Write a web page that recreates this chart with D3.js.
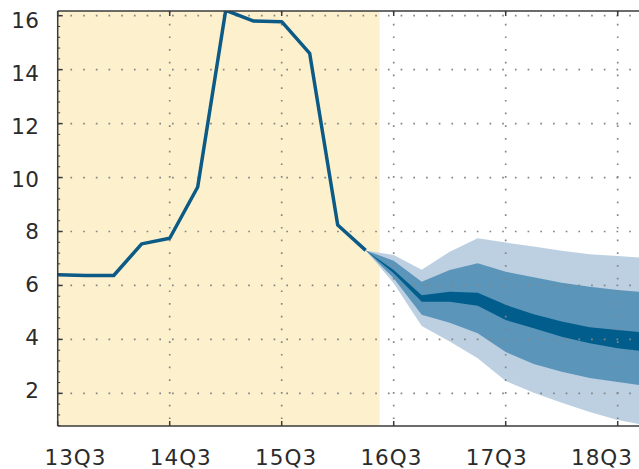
<!DOCTYPE html>
<html>
<head>
<meta charset="utf-8">
<script src="https://cdn.jsdelivr.net/npm/d3@7"></script>
<style>
  body { margin: 0; background: #fff; }
  text { font-family: "DejaVu Sans", sans-serif; fill: #2b2b2b; }
</style>
</head>
<body>
<div id="chart"></div>
<script>
// quarters on the x axis, 13Q3 .. 18Q4
var quarters = ["13Q3","13Q4","14Q1","14Q2","14Q3","14Q4","15Q1","15Q2","15Q3","15Q4",
                "16Q1","16Q2","16Q3","16Q4","17Q1","17Q2","17Q3","17Q4","18Q1","18Q2","18Q3","18Q4"];
var yearTicks = ["13Q3","14Q3","15Q3","16Q3","17Q3","18Q3"];
var yTicks = [2, 4, 6, 8, 10, 12, 14, 16];

// outturn
var histQuarters = ["13Q3","13Q4","14Q1","14Q2","14Q3","14Q4","15Q1","15Q2","15Q3","15Q4","16Q1","16Q2"];
var histValues = [6.4, 6.37, 6.37, 7.54, 7.75, 9.65, 16.2, 15.8, 15.78, 14.6, 8.24, 7.3];

// projection fan
var fanQuarters = ["16Q2","16Q3","16Q4","17Q1","17Q2","17Q3","17Q4","18Q1","18Q2","18Q3","18Q4"];
var outerHi = [7.3, 7.13, 6.58, 7.25, 7.75, 7.59, 7.44, 7.29, 7.16, 7.09, 7.02];
var midHi   = [7.3, 6.92, 6.14, 6.57, 6.82, 6.51, 6.30, 6.10, 5.95, 5.83, 5.75];
var coreHi  = [7.3, 6.57, 5.64, 5.77, 5.73, 5.28, 4.93, 4.66, 4.45, 4.35, 4.25];
var coreLo  = [7.3, 6.45, 5.40, 5.40, 5.25, 4.72, 4.41, 4.10, 3.86, 3.67, 3.55];
var midLo   = [7.3, 6.27, 4.91, 4.62, 4.23, 3.53, 3.09, 2.80, 2.57, 2.42, 2.28];
var outerLo = [7.3, 6.08, 4.50, 3.92, 3.30, 2.46, 2.02, 1.65, 1.31, 1.01, 0.82];

var W = 639, H = 469;
var mLeft = 57.7, mTop = 11, mBottom = 426, mRight = W;

var svg = d3.select("#chart").append("svg")
    .attr("width", W)
    .attr("height", H);

var x = d3.scalePoint()
    .domain(quarters)
    .range([mLeft, mLeft + 28 * (quarters.length - 1)]);

var y = d3.scaleLinear()
    .domain([0, 16])
    .range([447.3, 15.7]);

// label positions are spaced a little tighter than the ticks
var xLab = d3.scalePoint().domain(yearTicks).range([75.5, 602]);
var yLab = d3.scaleLinear().domain([6, 16]).range([284.5, 20.5]);

svg.append("clipPath").attr("id", "plot")
  .append("rect")
    .attr("x", mLeft).attr("y", mTop)
    .attr("width", mRight - mLeft).attr("height", mBottom - mTop);

var plot = svg.append("g").attr("clip-path", "url(#plot)");

// shaded outturn period
plot.append("rect")
    .attr("x", mLeft)
    .attr("y", mTop)
    .attr("width", x("16Q2") + x.step() / 2 - mLeft)
    .attr("height", mBottom - mTop)
    .attr("fill", "#fdf1cd");

// fan bands
var fan = fanQuarters.map(function (q, i) {
    return { q: q, oh: outerHi[i], mh: midHi[i], ch: coreHi[i], cl: coreLo[i], ml: midLo[i], ol: outerLo[i] };
});

function band(hi, lo) {
    return d3.area()
        .x(function (d) { return x(d.q); })
        .y0(function (d) { return y(d[lo]); })
        .y1(function (d) { return y(d[hi]); });
}

plot.append("path").datum(fan).attr("d", band("oh", "ol")).attr("fill", "#bdd0e2");
plot.append("path").datum(fan).attr("d", band("mh", "ml")).attr("fill", "#5b95ba");
plot.append("path").datum(fan).attr("d", band("ch", "cl")).attr("fill", "#005d8c");

// dotted grid
var grid = plot.append("g")
    .attr("fill", "none")
    .attr("stroke", "#858585")
    .attr("stroke-width", 1.7)
    .attr("stroke-dasharray", "1.7,11");

grid.selectAll(".hg")
    .data(yTicks)
    .enter().append("line")
    .attr("x1", mLeft).attr("x2", mRight)
    .attr("y1", function (d) { return y(d); })
    .attr("y2", function (d) { return y(d); });

grid.selectAll(".vg")
    .data(yearTicks.slice(1))
    .enter().append("line")
    .attr("x1", function (d) { return x(d); })
    .attr("x2", function (d) { return x(d); })
    .attr("y1", mTop).attr("y2", mBottom);

// outturn line
var line = d3.line()
    .x(function (d) { return x(d.q); })
    .y(function (d) { return y(d.v); });

plot.append("path")
    .datum(histQuarters.map(function (q, i) { return { q: q, v: histValues[i] }; }))
    .attr("d", line)
    .attr("fill", "none")
    .attr("stroke", "#0c5a86")
    .attr("stroke-width", 3.5)
    .attr("stroke-linejoin", "round");

// axes frame and ticks
var axis = svg.append("g").attr("stroke", "#3a3a3a").attr("stroke-width", 1.5);

axis.append("line").attr("x1", mLeft).attr("x2", mRight).attr("y1", mTop).attr("y2", mTop);
axis.append("line").attr("x1", mLeft).attr("x2", mRight).attr("y1", mBottom).attr("y2", mBottom);
axis.append("line").attr("x1", mLeft).attr("x2", mLeft).attr("y1", mTop).attr("y2", mBottom);

axis.selectAll(".xt")
    .data(yearTicks)
    .enter().append("path")
    .attr("d", function (d) {
        return "M" + x(d) + "," + mBottom + "V" + (mBottom - 5) +
               "M" + x(d) + "," + mTop + "V" + (mTop + 5);
    });

axis.selectAll(".yt")
    .data(yTicks)
    .enter().append("line")
    .attr("x1", mLeft).attr("x2", mLeft + 5)
    .attr("y1", function (d) { return y(d); })
    .attr("y2", function (d) { return y(d); });

var minor = d3.range(0.8, 16.2, 0.4).filter(function (v) {
    return Math.abs(v / 2 - Math.round(v / 2)) > 0.01;
});
axis.selectAll(".ym")
    .data(minor)
    .enter().append("line")
    .attr("stroke-width", 1)
    .attr("x1", mLeft).attr("x2", mLeft + 2.5)
    .attr("y1", function (d) { return y(d); })
    .attr("y2", function (d) { return y(d); });

// labels
svg.selectAll(".ylab")
    .data(yTicks)
    .enter().append("text")
    .attr("x", 39.5)
    .attr("y", function (d) { return yLab(d); })
    .attr("dy", "0.36em")
    .attr("text-anchor", "end")
    .style("font-size", "21.5px")
    .style("letter-spacing", "0.5px")
    .text(function (d) { return d; });

svg.selectAll(".xlab")
    .data(yearTicks)
    .enter().append("text")
    .attr("x", function (d) { return xLab(d); })
    .attr("y", 465)
    .attr("text-anchor", "middle")
    .style("font-size", "21.5px")
    .style("letter-spacing", "1px")
    .text(function (d) { return d; });
</script>
</body>
</html>
